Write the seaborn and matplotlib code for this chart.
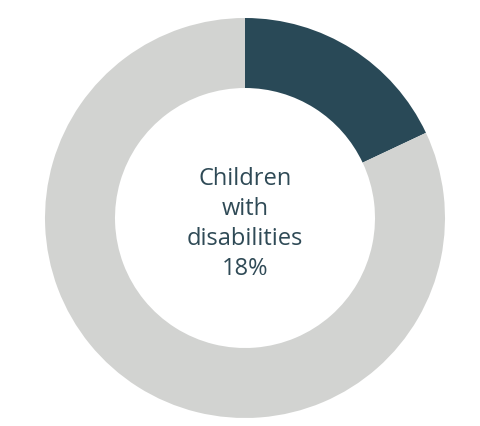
import matplotlib
matplotlib.use("Agg")
import matplotlib.pyplot as plt
import seaborn as sns

labels = ["Children with disabilities", "Other children"]
values = [18, 82]
colors = ["#294957", "#d2d3d1"]
center_text = "Children\nwith\ndisabilities\n18%"

sns.set_theme(style="white")
plt.rcParams['font.family'] = ['Open Sans', 'DejaVu Sans']

fig = plt.figure(figsize=(4.8, 4.26), dpi=100)
ax = fig.add_axes([0, 0, 1, 1])
ax.pie(values, colors=colors, startangle=90, counterclock=False, radius=1.0,
       wedgeprops=dict(width=0.35, edgecolor="none"))
ax.set_xlim(-1.225, 1.175)
ax.set_ylim(-1.04, 1.09)
ax.set_aspect("auto")
ax.axis("off")
ax.text(0, -0.03, center_text, ha="center", va="center", fontsize=17,
        color="#2f4a56", linespacing=1.35)
fig.savefig("out.png", dpi=100)
